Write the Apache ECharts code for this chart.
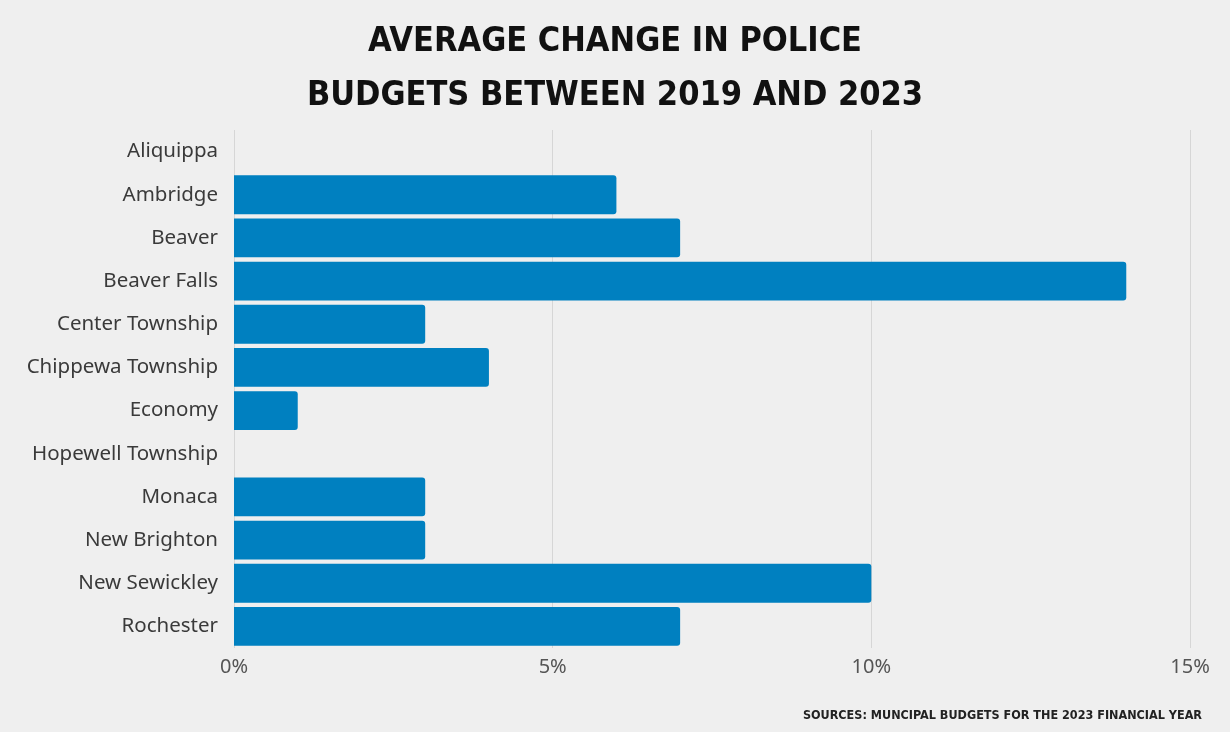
<!DOCTYPE html>
<html><head><meta charset="utf-8">
<script src="https://cdn.jsdelivr.net/npm/echarts@6/dist/echarts.min.js"></script>
<style>html,body{margin:0;padding:0;background:#efefef;}#c{width:1230px;height:732px;}</style>
</head><body><div id="c"></div>
<script>
const categories = ["Aliquippa","Ambridge","Beaver","Beaver Falls","Center Township","Chippewa Township","Economy","Hopewell Township","Monaca","New Brighton","New Sewickley","Rochester"];
const values = [0, 6, 7, 14, 3, 4, 1, 0, 3, 3, 10, 7];
const xTicks = [0, 5, 10, 15];
const titleText = "AVERAGE CHANGE IN POLICE\nBUDGETS BETWEEN 2019 AND 2023";
const sourceText = "SOURCES: MUNCIPAL BUDGETS FOR THE 2023 FINANCIAL YEAR";

const chart = echarts.init(document.getElementById('c'));
chart.setOption({
  backgroundColor: '#efefef',
  animation: false,
  title: [{
    text: titleText, left: 'center', top: 10,
    textStyle: {fontFamily: '"DejaVu Sans Condensed", "DejaVu Sans", sans-serif', fontWeight: 'bold', fontSize: 34, lineHeight: 54, color: '#111'}
  }, {
    text: sourceText, right: 23, top: 704,
    textStyle: {fontFamily: '"DejaVu Sans Condensed", "DejaVu Sans", sans-serif', fontWeight: 'bold', fontSize: 12.5, color: '#222'}
  }],
  grid: {left: 234, right: 40, top: 130, bottom: 84, containLabel: false},
  xAxis: {
    type: 'value', min: xTicks[0], max: xTicks[xTicks.length-1], interval: 5,
    axisLine: {show: false}, axisTick: {show: false},
    splitLine: {lineStyle: {color: '#d6d6d6', width: 1}},
    axisLabel: {formatter: v => v + '%', fontFamily: 'Noto Sans', fontSize: 20, color: '#555', margin: 9}
  },
  yAxis: {
    type: 'category', data: categories, inverse: true,
    axisLine: {show: false}, axisTick: {show: false},
    axisLabel: {fontFamily: 'Noto Sans', fontSize: 20.5, color: '#3a3a3a', margin: 16}
  },
  series: [{
    type: 'bar', data: values, barCategoryGap: '10%',
    itemStyle: {color: '#0080c0', borderRadius: [0, 3, 3, 0]}
  }]
});
</script></body></html>
